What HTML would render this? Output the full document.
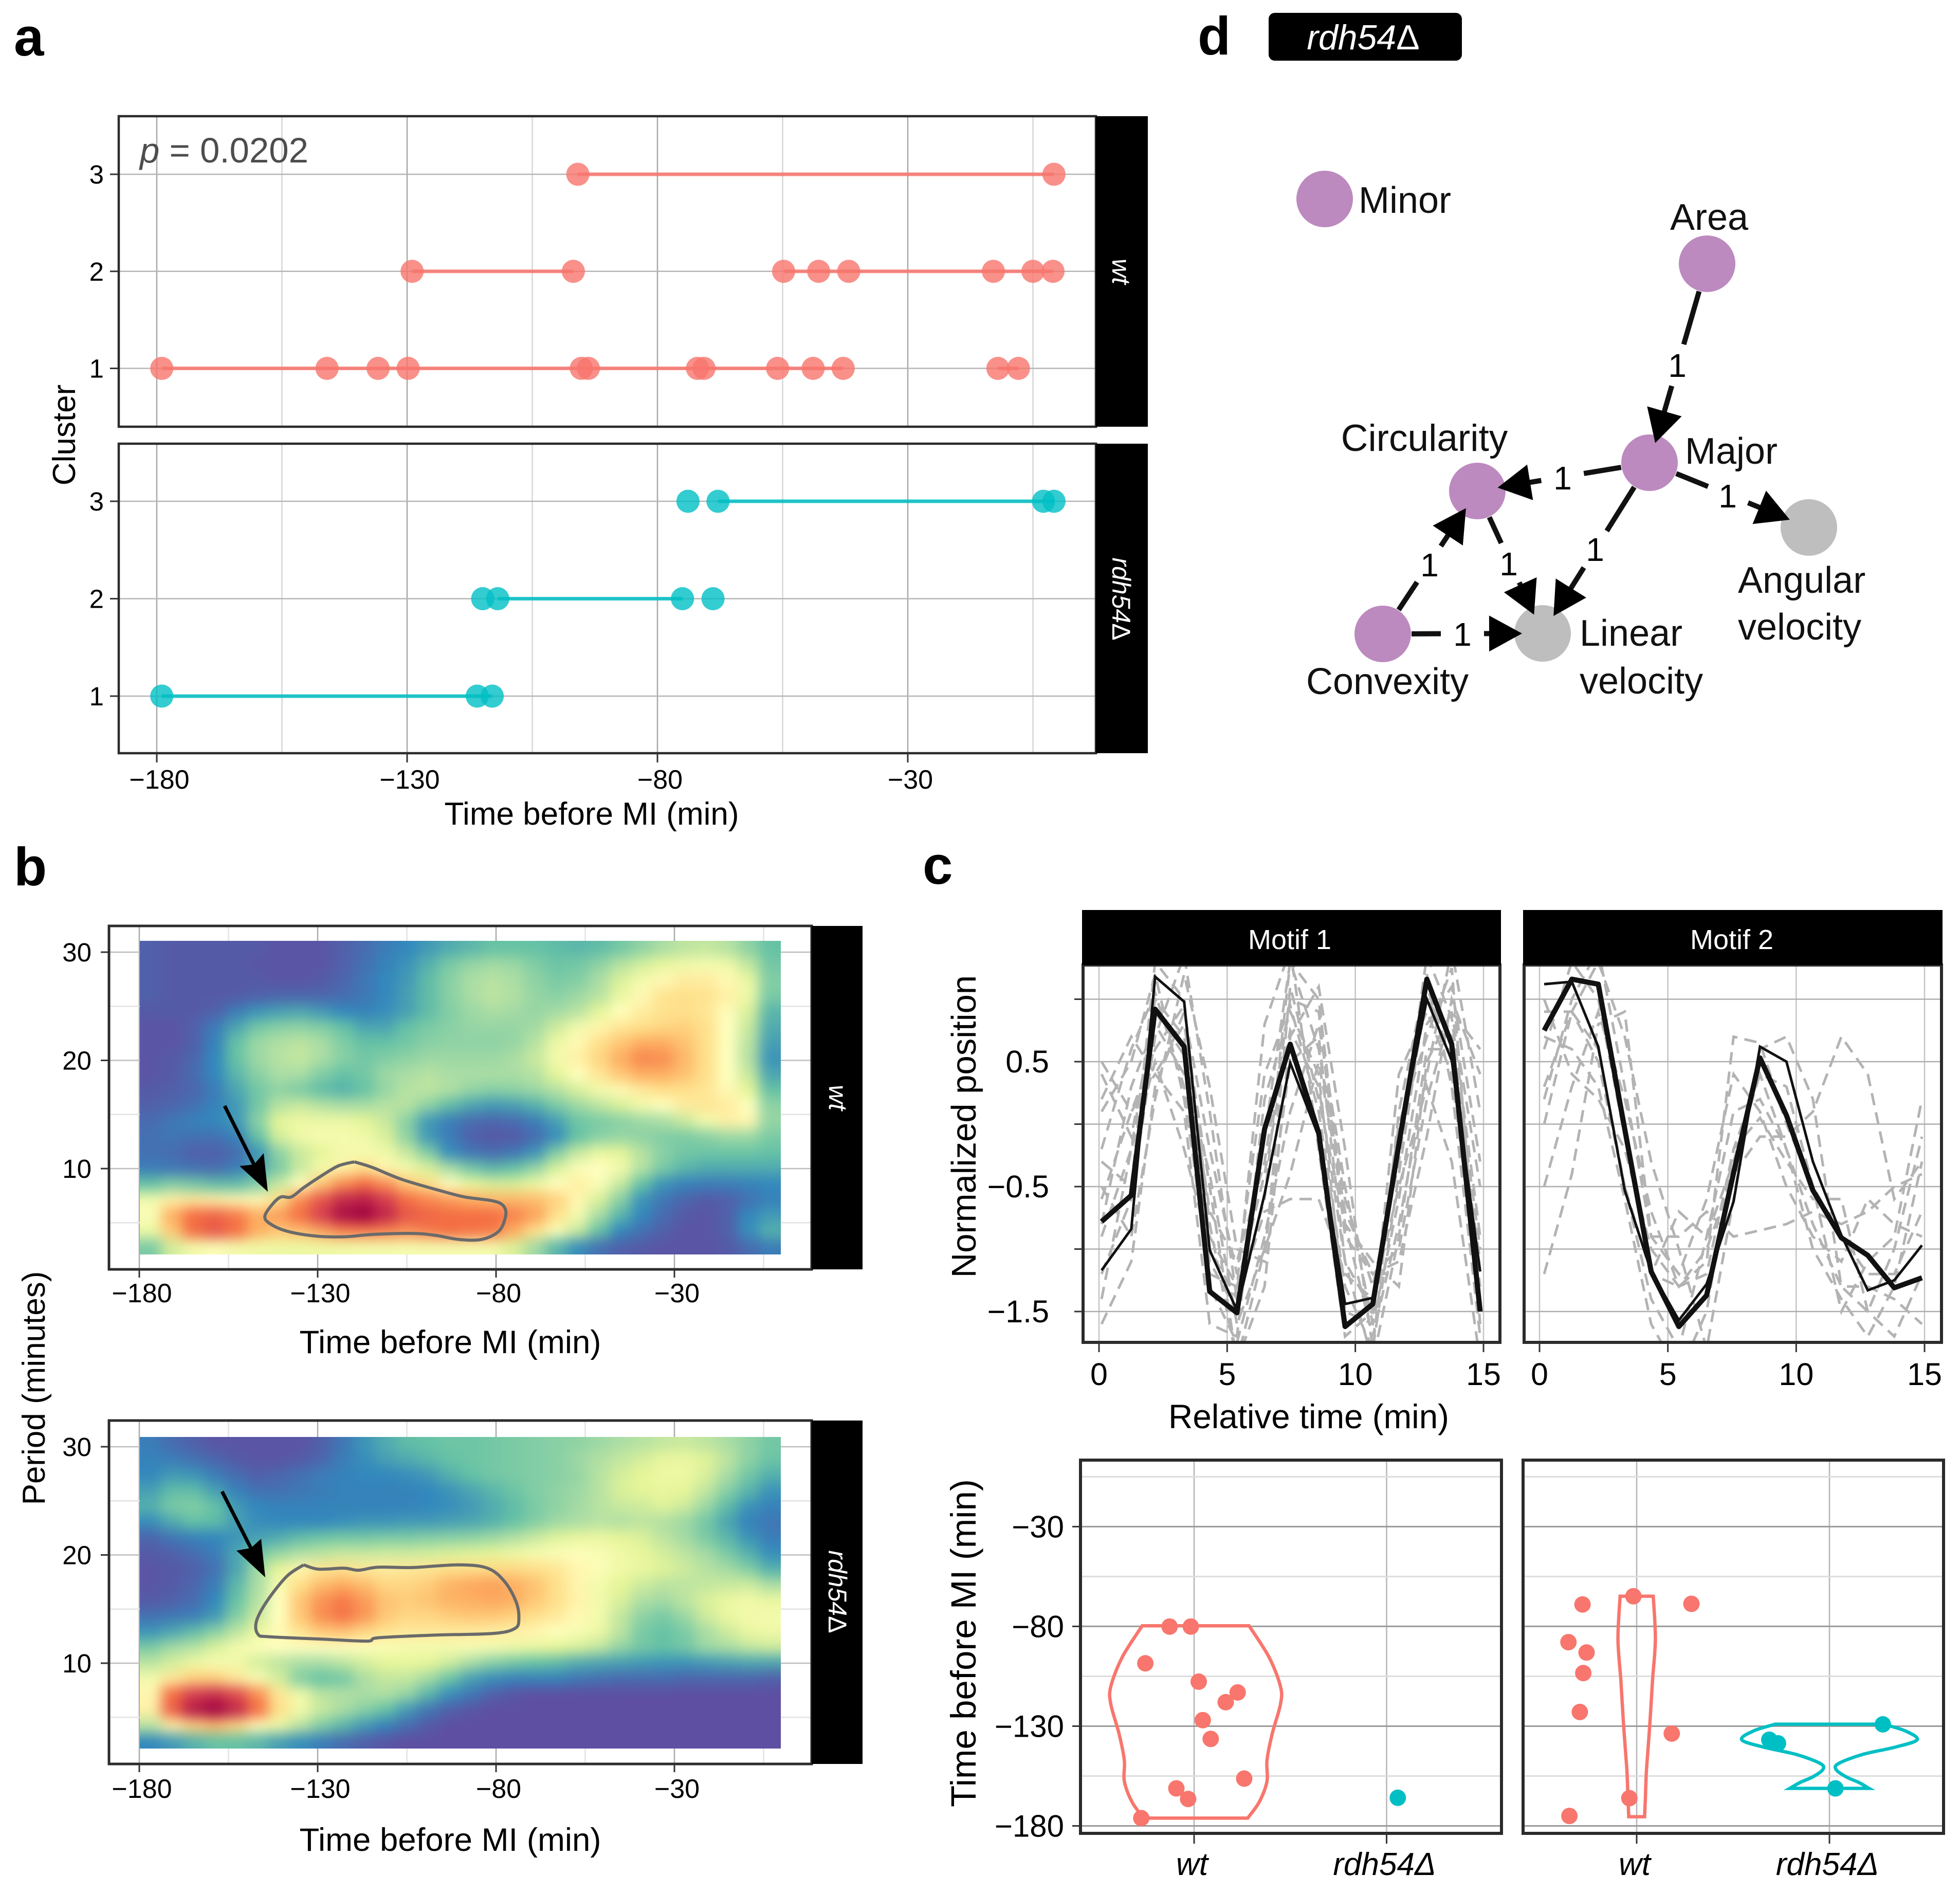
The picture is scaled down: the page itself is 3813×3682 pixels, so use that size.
<!DOCTYPE html>
<html lang="en">
<head>
<meta charset="utf-8">
<title>Cluster, wavelet, motif and network figure</title>
<style>
html,body{margin:0;padding:0;background:#fff;}
svg{display:block;}
text{font-family:"Liberation Sans","DejaVu Sans",sans-serif;fill:#000;}
.letter{font-size:105px;font-weight:700;}
.title{font-size:62px;}
.titleb{font-size:63.5px;}
.titlec{font-size:67px;}
.strip{font-size:50px;font-style:italic;fill:#fff;}
.node{font-size:72px;fill:#111;}
</style>
</head>
<body>
<svg id="fig" xmlns="http://www.w3.org/2000/svg" width="3813" height="3682" viewBox="0 0 3813 3682">
<defs>
<filter id="heatBlur" x="-5%" y="-5%" width="110%" height="110%" color-interpolation-filters="sRGB"><feGaussianBlur stdDeviation="13"/></filter>
<clipPath id="clipHeatWt"><rect x="272" y="1830" width="1247" height="610"/></clipPath>
<clipPath id="clipHeatRdh"><rect x="272" y="2795" width="1247" height="606"/></clipPath>
<clipPath id="clipM1"><rect x="2107" y="1877" width="811" height="734"/></clipPath>
<clipPath id="clipM2"><rect x="2965" y="1877" width="812" height="734"/></clipPath>
</defs>
<rect x="0" y="0" width="3813" height="3682" fill="#fff"/>

<g id="layerA"></g>
<g id="layerB"></g>
<g id="layerC"></g>
<g id="layerD"></g>

<g>
<text class="letter" x="27" y="108">a</text>
<text class="letter" x="27" y="1722">b</text>
<text class="letter" x="1795" y="1719">c</text>
<text class="letter" x="2330" y="106">d</text>

<text x="272" y="316" style="font-size:69px;fill:#4d4d4d"><tspan font-style="italic" style="fill:#4d4d4d">p</tspan> = 0.0202</text>
<text class="title" x="1151" y="1604" text-anchor="middle">Time before MI (min)</text>
<text class="title" transform="translate(146,846) rotate(-90)" text-anchor="middle">Cluster</text>
<rect x="2132" y="226" width="101" height="604" fill="#000"/>
<rect x="2132" y="863" width="101" height="602" fill="#000"/>
<text class="strip" transform="translate(2164,528) rotate(90)" text-anchor="middle">wt</text>
<text class="strip" transform="translate(2164,1165) rotate(90)" text-anchor="middle">rdh54<tspan font-style="normal" style="fill:#fff">Δ</tspan></text>

<text class="title" transform="translate(87,2700) rotate(-90)" text-anchor="middle">Period (minutes)</text>
<text class="titleb" x="876" y="2632" text-anchor="middle">Time before MI (min)</text>
<text class="titleb" x="876" y="3600" text-anchor="middle">Time before MI (min)</text>
<rect x="1579" y="1801" width="99" height="668" fill="#000"/>
<rect x="1579" y="2763" width="99" height="668" fill="#000"/>
<text class="strip" transform="translate(1613,2135) rotate(90)" text-anchor="middle">wt</text>
<text class="strip" transform="translate(1612,3096) rotate(90)" text-anchor="middle">rdh54<tspan font-style="normal" style="fill:#fff">Δ</tspan></text>
<g>
<line x1="437" y1="2151" x2="494" y2="2265" stroke="#000" stroke-width="7"/>
<polygon points="521,2318 466,2268 494,2265 513,2243" fill="#000"/>
</g>
<g>
<line x1="432" y1="2901" x2="488" y2="3011" stroke="#000" stroke-width="7"/>
<polygon points="516,3068 460,3016 488,3011 508,2993" fill="#000"/>
</g>

<rect x="2105" y="1770" width="815" height="107" fill="#000"/>
<rect x="2963" y="1770" width="816" height="107" fill="#000"/>
<text x="2509" y="1846" text-anchor="middle" style="font-size:54px;fill:#fff">Motif 1</text>
<text x="3369" y="1846" text-anchor="middle" style="font-size:54px;fill:#fff">Motif 2</text>
<text class="titlec" transform="translate(1898,2191) rotate(-90)" text-anchor="middle">Normalized position</text>
<text class="titlec" x="2546" y="2778" text-anchor="middle" style="font-size:65.5px">Relative time (min)</text>
<text class="titlec" transform="translate(1898,3196) rotate(-90)" text-anchor="middle" style="font-size:69px">Time before MI (min)</text>

<rect x="2468" y="25" width="376" height="93" rx="12" fill="#000"/>
<text x="2652" y="96" text-anchor="middle" style="font-size:68px;font-style:italic;fill:#fff">rdh54<tspan font-style="normal" style="fill:#fff">Δ</tspan></text>
</g>

<g id="nodeLabels">
<text class="node" x="2643" y="414">Minor</text>
<text class="node" x="3325" y="447" text-anchor="middle">Area</text>
<text class="node" x="2771" y="877" text-anchor="middle" style="font-size:73px">Circularity</text>
<text class="node" x="3278" y="902">Major</text>
<text class="node" x="3381" y="1153">Angular</text>
<text class="node" x="3381" y="1244">velocity</text>
<text class="node" x="3073" y="1256">Linear</text>
<text class="node" x="3073" y="1349">velocity</text>
<text class="node" x="2541" y="1350">Convexity</text>
</g>
</svg>

<script>
/* ---------- Panel a data (minutes before MI) ---------- */
const clusterTicks = [1, 2, 3];
const timeTicksA = [-180, -130, -80, -30];
const timeMinorA = [-155, -105, -55, -5];
const wtCluster1 = [-179, -146, -135.8, -129.8, -95.2, -93.8, -72, -70.7, -56, -48.9, -42.9, -12, -7.9];
const wtCluster2 = [-129, -96.8, -54.8, -47.8, -41.8, -12.9, -5, -1];
const wtCluster3 = [-95.9, -0.8];
const rdhCluster1 = [-179, -116, -113];
const rdhCluster2 = [-114.9, -111.9, -75, -68.9];
const rdhCluster3 = [-73.9, -67.9, -2.9, -0.8];
const wtRuns1 = [[-179, -42.9], [-12, -7.9]];
const wtRuns2 = [[-129, -96.8], [-54.8, -1]];
const wtRuns3 = [[-95.9, -0.8]];
const rdhRuns1 = [[-179, -113]];
const rdhRuns2 = [[-111.9, -75]];
const rdhRuns3 = [[-67.9, -0.8]];

/* ---------- Panel b data: power on a 0-10 colour scale ---------- */
const heatTimeTicks = [-180, -130, -80, -30];
const heatTimeMinor = [-155, -105, -55, -5];
const heatPeriodTicks = [10, 20, 30];
const heatPeriodMinor = [5, 15, 25];
const wtPower = [
[.3,.2,.2,.2,.2,.2,.1,.1,.1,.3,.5,.8,1,1.3,1.6,1.8,2,2,2,1.9,1.8,1.9,2.2,2.6,3,3.3,3.4,3.2,2.6,2],
[.3,.2,.2,.2,.2,.1,.1,.1,.1,.3,.6,.9,1.2,1.7,2.3,2.7,2.9,2.8,2.4,2.1,2.2,2.6,3.2,3.7,4.1,4.4,4.6,4.4,3.4,2.2],
[.3,.2,.2,.2,.2,.2,.1,.1,.2,.4,.7,1,1.3,1.9,2.5,3,3.2,3,2.6,2.3,2.4,3,3.8,4.5,5.2,5.6,5.6,5.2,4.2,2.4],
[.3,.2,.2,.2,.2,.3,.4,.4,.4,.5,.7,1,1.4,1.9,2.5,3,3.3,3.1,2.7,2.5,2.8,3.2,4.2,5.2,5.9,6,5.9,5.5,4.4,2.3],
[.2,.2,.2,.3,.8,1.2,1.4,1.5,1.3,1,.9,1.1,1.4,1.9,2.4,2.8,3,2.9,2.7,2.9,3.2,4,5,5.6,5.9,6,5.8,5.1,3.8,1.8],
[.1,.1,.3,.8,1.5,2.2,2.5,2.6,2.4,2,1.5,1.5,2,2.3,2.5,2.7,2.7,2.7,2.9,3.6,4.5,5.3,5.8,6,6.2,6.3,6,5,3.5,1.6],
[.1,.1,.3,.9,2,2.8,3.1,3.3,3,2.4,2,2,2.2,2.5,2.6,2.6,2.6,2.7,3.2,4.3,5.2,6,6.5,7,7,6.6,6,5,3.3,1.4],
[.1,.2,.4,1,2,2.8,3.2,3.4,3,2.5,2.2,2.4,2.6,2.8,2.8,2.8,2.8,3,3.5,4.5,5.5,6.2,7,7.6,7.5,6.8,6,5,3.2,1.2],
[.1,.2,.5,1,1.8,2.5,3,3,2.4,2,2.2,2.8,3,3.2,3,3,3,3,3.2,4,5,5.8,6.5,7,7,6.6,6,5,3.5,1.5],
[.2,.3,.4,.8,1.5,2.2,2.6,2.3,1.9,1.7,2,2.7,3.2,3.3,3.1,2.7,2.5,2.6,2.8,3.2,3.8,4.5,5.2,5.7,6,6,5.8,5.2,4,2],
[.3,.4,.6,.9,1.3,2.2,3.2,3.5,3.2,3,3,3.2,3.2,2.6,1.9,1.5,1.3,1.4,1.7,2.3,2.8,3.3,3.8,4.5,5,5.6,5.8,5.6,5,2.6],
[.5,.7,.9,1,1.3,2.5,4,4.3,4.3,4.3,4,3.5,2.5,1.3,.8,.5,.4,.5,.8,1.4,2.1,2.3,2.5,2.8,3,3.5,4.5,5.5,5.3,2.7],
[.6,.7,.6,.6,.9,2,3.7,4.4,4.6,4.6,4.4,3.8,2.6,1.3,.8,.3,.15,.2,.5,1.1,2,2.5,2.7,2.6,2.4,2.3,2.5,2.8,2.8,2.3],
[.6,.5,.3,.3,.5,1.2,2.6,3.5,4,4.5,4.6,4.4,3.5,2.4,1.1,.7,.5,.7,1.2,2.4,3.5,4.2,4,3.2,2.5,2.2,2.1,2.1,2.1,2],
[.8,.7,.6,.5,.8,1.5,2.3,3.5,4.5,5.5,6,5.3,4.5,3.8,3,2.2,1.8,2,2.7,3.8,4.8,5,4.5,3.2,2.3,1.8,1.6,1.6,1.6,1.6],
[2,2.4,2.2,1.9,1.9,2.4,3.5,5,6.5,7.5,8,7.5,6.5,6,5,4.2,3.8,3.8,4.3,5,5.5,4.8,3.5,2,1.2,.9,.8,.8,.9,1],
[4.5,5.5,5.7,5.5,5.3,5.2,6,7.5,8.5,9.3,9.5,9,8,7.6,7.3,7,6.8,6.8,6.7,6.3,5.3,3.8,2.5,1.2,.7,.4,.2,.3,.6,.9],
[4.8,7,8,8.2,7.8,7,7.3,8,9,9.8,10,9.4,8.5,8.2,8,8,8,7.7,7.2,6,4.6,3,1.8,1,.5,.2,.1,.3,1,1.3],
[4.3,6.5,8,8.5,8,7,6.5,6.7,7.2,7.7,7.8,7.7,7.5,7.8,8,7.9,7.8,7,6,4.8,3.5,2,1,.6,.3,.1,.1,.3,1.1,1.7],
[2.3,3.7,4.5,4.8,4.5,4.4,4.3,4.3,4.3,4.4,4.5,4.5,4.6,4.6,4.6,4.6,4.5,3.8,2.9,1.8,1.1,.6,.3,.2,.1,.1,.1,.2,.5,.8]
];
const rdhPower = [
[.8,.5,.3,.1,.1,.1,.1,.1,.3,.7,1.2,1.6,1.9,2,2.1,2.1,2.2,2.3,2.4,2.5,2.6,2.8,3,3.2,3.4,3.5,3.3,3,2.6,2.2],
[.9,.8,.6,.4,.2,.1,.1,.2,.4,.8,1.1,1.4,1.6,1.8,2,2.1,2.2,2.3,2.4,2.5,2.8,3.1,3.4,3.7,4.1,4.2,3.9,3.3,2.6,2.1],
[1,1.3,1.2,.8,.5,.3,.4,.6,.8,.9,1,1,1.1,1.3,1.7,2,2.2,2.3,2.4,2.5,2.7,3.2,3.7,4,4.3,4.3,3.8,3,2.2,1.7],
[1.4,1.9,1.9,1.4,.9,.6,.6,.7,.8,.9,.9,.9,.9,1,1.2,1.5,1.8,2.1,2.4,2.6,2.8,3.2,3.8,4,4.1,4,3.4,2.5,1.8,1.2],
[1.7,2.3,2.4,2,1.3,1,.9,.9,.9,.9,.9,.9,.9,1,1.1,1.3,1.6,1.9,2.3,2.6,2.9,3.2,3.5,3.6,3.9,3.6,2.8,1.9,1.2,.9],
[1.1,1.6,2,1.9,1.4,1.1,1,1,1,1.1,1.2,1.2,1.3,1.3,1.4,1.5,1.7,2,2.4,2.8,3,3.2,3.1,3.3,3.1,2.8,2.2,1.5,.9,.7],
[.4,.7,.9,1,1.2,1.4,1.6,1.9,2.1,2.2,2.2,2.3,2.3,2.4,2.5,2.6,2.8,3.1,3.5,3.9,4.1,4.2,4,3.8,3.3,2.9,2.3,1.8,1.2,.8],
[.2,.3,.5,.8,1.5,2.1,2.7,3.1,3.3,3.5,3.5,3.6,3.6,3.7,3.8,3.9,4,4.3,4.6,4.8,4.9,4.7,4.4,4.1,3.7,3.3,2.9,2.3,1.7,1.1],
[.1,.2,.3,.6,1.5,2.9,4,5.3,5.8,5.9,5.7,5.6,5.7,5.8,6,6,6.1,6.1,6,5.8,5.3,4.8,4.4,4.2,3.9,3.6,3.2,2.9,2.4,1.7],
[.1,.2,.4,.8,1.8,3,4.6,6,6.7,7,6.7,6.2,6.2,6.4,6.9,7.1,7.2,7,6.6,6,5.3,4.5,4,3.6,3.3,3.3,3.4,3.5,3.6,3],
[.2,.3,.5,1,2,3.2,5,6.5,7.4,7.8,7.3,6.6,6.4,6.6,6.9,7,7.1,7,6.5,6,5.4,4.5,3.8,3.1,2.9,3.3,3.8,4.2,4.4,4.2],
[.6,.7,.8,1.3,2.4,3.5,5,6.5,7.5,7.9,7.4,6.5,6.2,6.2,6.4,6.5,6.5,6.3,6,5.7,5.2,4.5,3.4,2.6,2.3,2.8,3.6,4.2,4.5,4.5],
[1.2,1.5,1.9,2.5,3.3,4.2,5.2,5.9,6.5,6.6,6.2,5.9,5.7,5.7,5.7,5.7,5.6,5.5,5.3,5,4.7,4.3,3.3,2.3,2,2.3,3,3.6,4.2,4.4],
[2.3,2.9,3.2,3.8,4.5,4.8,5,5,5,5,4.9,4.8,4.6,4.6,4.6,4.7,4.6,4.4,4.2,4,3.8,3.4,2.7,2.2,2,2.2,2.8,3,3.4,3.6],
[3.3,3.7,4.3,4.6,4.4,3.7,3.3,3,3,3.3,3.7,4,4.1,4,3.6,3,2.5,2.2,2,1.9,1.6,1.5,1.4,1.3,1.2,1.2,1.3,1.4,1.5,1.5],
[4.5,5.7,6.3,6.3,5.7,4.7,3.7,2.4,2,2.2,3,3.4,3.4,2.9,2.1,1.4,1.1,.9,.9,.9,.7,.6,.5,.5,.5,.4,.4,.4,.4,.3],
[5.3,8,9,9.2,8.7,7.5,5.8,4.4,3.3,3.1,3,3.1,2.7,1.8,1.1,.7,.3,.1,0,0,0,0,0,0,0,0,0,0,0,0],
[5.5,8.3,9.6,10,9.4,8,6,4.5,3.5,3,2.5,2,1.3,.7,.3,.1,0,0,0,0,0,0,0,0,0,0,0,0,0,0],
[3.3,5.5,6.3,6.7,6.2,5.2,4.3,3.3,2.4,1.8,1.3,.9,.5,.2,0,0,0,0,0,0,0,0,0,0,0,0,0,0,0,0],
[1,1.3,1.7,2,2,1.8,1.4,1.1,.8,.5,.3,.1,0,0,0,0,0,0,0,0,0,0,0,0,0,0,0,0,0,0]
];
const wtContourTime = [-119.7,-124.2,-129,-133.9,-137.4,-140.3,-142.7,-144.8,-143.5,-138.7,-130.6,-122.6,-114.6,-103.3,-96.9,-90.5,-84,-79.2,-77.3,-77.9,-80.8,-88.8,-95.3,-106.5,-114.6];
const wtContourPeriod = [10.62,10.25,9.32,8.24,7.38,7.38,6.7,5.62,4.94,4.23,3.77,3.7,3.92,4.01,3.83,3.46,3.46,4.23,5.62,6.54,7.01,7.38,7.93,9.01,10.1];
const rdhContourTime = [-133.9,-129.8,-122.6,-118.6,-113,-103.3,-90.5,-82.4,-77.6,-74.4,-73.6,-74.7,-80.8,-96.9,-113,-116.2,-129,-143.5,-146.7,-147.2,-144.3,-138.7];
const rdhContourPeriod = [19.09,18.69,18.78,18.59,18.87,18.84,19.09,18.78,17.54,15.69,14.14,13.21,12.75,12.6,12.35,12.04,12.23,12.44,12.66,13.83,15.69,18.01];

/* ---------- Panel c motif data ---------- */
const motifXTicks = [0, 5, 10, 15];
const motifYLabels = [0.5, -0.5, -1.5];
const motifYMinor = [1, 0, -1];
const m1Time = [.1,1.26,2.19,3.32,4.32,5.38,6.46,7.46,8.57,9.6,10.68,11.7,12.79,13.76,14.87];
const m1Thick = [-.78,-.57,.92,.62,-1.34,-1.51,-.04,.64,-.07,-1.62,-1.44,-.16,1.16,.64,-1.5];
const m1Thin = [-1.17,-.84,1.18,.98,-1.01,-1.49,-.56,.49,-.1,-1.44,-1.39,-.13,1,.51,-1.18];
const m1Gray = [
[.4,-.1,.9,.55,-.9,-1.3,-.4,.75,.3,-1.1,-1.5,-.2,1,.7,-1],
[-.2,.6,1.05,.3,-1.3,-1.75,-.9,.1,.8,-.5,-1.6,-.6,.8,1.1,-.3],
[-1.2,-.6,.7,1.35,.1,-1.4,-.6,1.3,1,-.8,-1.7,-.8,.4,1.4,.1],
[-1.6,-1.1,.3,.9,-.2,-1.2,.4,.95,.1,-1.3,-1.8,.1,1.2,.3,-1.7],
[.1,.5,1.2,.2,-1.1,-1.5,-.1,1.3,.6,-.6,-1.3,-.3,1.35,.85,-.9],
[-.8,.3,.8,.4,-.4,-1.6,-1,-.4,.5,-.7,-1.2,-1,.2,.9,-.5],
[-.6,.1,.6,.95,-.8,-1.9,-1,.5,.7,-1.1,-1.9,-.9,.6,.6,-1.3],
[-1.4,-.2,.5,-.2,-1,-1.4,-.7,-.6,-.6,-1.2,-1.4,-.5,.3,-.3,-1.9],
[.5,.1,.4,.1,-1.6,-1.7,.2,.9,.4,-1.5,-1.6,.4,.9,.4,-1.4],
[-.3,-.5,1.3,1,-1.2,-1.3,.8,1.4,-.2,-1.7,-1.5,0,.7,1.25,-1.6],
[-.9,-.2,1,.7,-.7,-1.1,-.3,1,.9,-.9,-1.2,-1.1,-.1,1,.4],
[.2,.7,.4,.8,-.5,-1.9,-1.3,.7,1.1,-.2,-1.8,-.4,1.1,.5,-1.1],
[-.5,-.9,.2,1.2,.3,-1,-1.1,1.1,.2,-.8,-1.1,-1.3,.5,.9,.6]
];
const m2Time = [.18,1.26,2.29,3.32,4.35,5.43,6.51,7.56,8.59,9.62,10.65,11.76,12.79,13.82,14.9];
const m2Thick = [.75,1.16,1.12,-.04,-1.18,-1.62,-1.37,-.39,.53,.07,-.53,-.91,-1.05,-1.31,-1.23];
const m2Thin = [1.12,1.14,.62,-.53,-1.18,-1.57,-1.28,-.62,.62,.5,-.3,-.89,-1.33,-1.25,-.97];
const m2Gray = [
[.6,1.3,1,-.1,-1.2,-1.3,-1.1,.7,.65,0,-.5,-.9,-1.2,-1.2,-.7],
[0,.9,.6,-.5,-1.4,-1.8,-.9,.1,.2,-.2,-.8,-1.3,-1.3,-1.4,-1.6],
[-1.2,-.4,.8,.9,-.9,-.9,-.7,-.9,-.85,-.8,-.7,-.8,-.7,-.5,-.4],
[1,.4,.2,-.2,-1,-1.3,-1,-.4,-.1,-.1,.1,.7,.4,-.6,-.3],
[.3,.9,1.3,.7,-.3,-1,-1.8,-.6,.6,.7,.2,-1.3,-1.5,-1,-.1],
[.7,.6,.3,-.6,-1.6,-2,-1.5,-.2,.4,-.2,-1,-1.4,-1.7,-1.3,-.3],
[.2,1,1.4,.3,-.9,-1.2,-.6,.4,.1,-.5,-.9,-1.1,-.6,-.8,-.9],
[.9,.9,.5,-.5,-1.2,-.7,-.9,-.3,.4,.3,-.5,-1.5,-1.1,-.9,.2],
[-.5,.3,.9,.2,-.7,-1.3,-1.2,-.2,.05,-.3,-.6,-.6,-1.5,-1.7,-1.2]
];

/* ---------- Panel c violin data ---------- */
const violinYTicks = [-30, -80, -130, -180];
const violinYMinor = [-5, -55, -105, -155];
const violinCategories = ['wt', 'rdh54Δ'];
const v1WtTime = [-79.7,-95.3,-110.1,-119,-133.9,-147.2,-157.6,-168,-176.1];
const v1WtWidth = [.277,.38,.44,.44,.397,.37,.37,.33,.27];
const v2WtTime = [-64.9,-86.4,-107.2,-129.4,-151.7,-166.5,-175.4];
const v2WtWidth = [.086,.097,.082,.068,.051,.045,.041];
const v2RdhTime = [-129,-132.4,-136.8,-140.5,-144.2,-148.7,-151.7,-155.4,-158.3,-161.2];
const v2RdhWidth = [.281,.394,.455,.342,.171,.048,.034,.086,.154,.205];
const p1WtJitter = [-.127,-.017,-.253,.024,.226,.164,.045,.086,.26,-.092,-.031,-.274];
const p1WtTime = [-80.1,-80.1,-98.5,-107.7,-113.1,-118,-127,-136.4,-156.3,-161.2,-166.5,-176.1];
const p1RdhJitter = [.058];
const p1RdhTime = [-165.9];
const p2WtJitter = [-.017,-.281,.284,-.354,-.26,-.277,-.295,.182,-.038,-.349];
const p2WtTime = [-64.9,-69,-68.7,-87.9,-93.1,-103.4,-122.9,-133.7,-166.1,-175];
const p2RdhJitter = [.277,-.312,-.267,.031];
const p2RdhTime = [-129.1,-136.8,-138.6,-161.2];

/* ---------- Panel d network ---------- */
const nodeNames = ['Minor','Area','Major','Circularity','Angular','Linear','Convexity'];
const edgeFrom = ['Area','Major','Major','Major','Circularity','Convexity','Convexity'];
const edgeTo = ['Major','Circularity','Angular','Linear','Linear','Circularity','Linear'];
const edgeWeights = [1,1,1,1,1,1,1];

/* ---------- helpers ---------- */
const NS = 'http://www.w3.org/2000/svg';
const RED = '#F8766D', TEAL = '#00BFC4';
function make(parent, tag, attrs, name) {
  const el = document.createElementNS(NS, tag);
  for (const k in attrs) el.setAttribute(k, attrs[k]);
  
  
  parent.appendChild(el);
  return el;
}
function lin(d0, d1, r0, r1) { return v => r0 + (v - d0) * (r1 - r0) / (d1 - d0); }
function fmt(v) { return String(v).replace('-', '\u2212'); }
function label(parent, x, y, s, size, anchor, name, italic) {
  const t = make(parent, 'text', {x: x, y: y, 'text-anchor': anchor}, name);
  t.style.fontSize = size + 'px';
  if (italic) t.style.fontStyle = 'italic';
  t.textContent = s;
  return t;
}
function vline(p, x, y0, y1, col, w, name) { make(p, 'line', {x1:x, x2:x, y1:y0, y2:y1, stroke:col, 'stroke-width':w}, name); }
function hline(p, y, x0, x1, col, w, name) { make(p, 'line', {x1:x0, x2:x1, y1:y, y2:y, stroke:col, 'stroke-width':w}, name); }
function frame(p, x0, y0, x1, y1, w, name) {
  make(p, 'rect', {x:x0, y:y0, width:x1-x0, height:y1-y0, fill:'none', stroke:'#2b2b2b', 'stroke-width':w}, name);
}
function pathOf(xs, ys) { return xs.map((x, i) => (i ? 'L' : 'M') + x.toFixed(1) + ' ' + ys[i].toFixed(1)).join(''); }
function smooth(pts) {
  let d = '';
  for (let i = 0; i < pts.length - 1; i++) {
    const p0 = pts[Math.max(i - 1, 0)], p1 = pts[i], p2 = pts[i + 1], p3 = pts[Math.min(i + 2, pts.length - 1)];
    d += 'C' + (p1[0] + (p2[0] - p0[0]) / 6).toFixed(1) + ' ' + (p1[1] + (p2[1] - p0[1]) / 6).toFixed(1) + ' ' +
         (p2[0] - (p3[0] - p1[0]) / 6).toFixed(1) + ' ' + (p2[1] - (p3[1] - p1[1]) / 6).toFixed(1) + ' ' +
         p2[0].toFixed(1) + ' ' + p2[1].toFixed(1);
  }
  return d;
}

/* ---------- panel a ---------- */
const layerA = document.getElementById('layerA');
const xA = lin(-180, -30, 305, 1766);
function clusterPanel(top, bottom, y1, y3, series, runs, col, tag) {
  const yC = lin(1, 3, y1, y3);
  timeMinorA.forEach(t => vline(layerA, xA(t), top, bottom, '#d6d6d6', 2.5, 'minor-gridline'));
  timeTicksA.forEach(t => vline(layerA, xA(t), top, bottom, '#a8a8a8', 2.5, 'major-gridline'));
  clusterTicks.forEach(c => {
    hline(layerA, yC(c), 231, 2132, '#b5b5b5', 2.5, 'cluster-gridline');
    hline(layerA, yC(c), 214, 231, '#333', 3, 'y-tick');
    label(layerA, 202, yC(c) + 18, c, 51, 'end', 'y-tick-label');
  });
  clusterTicks.forEach((c, i) => {
    runs[i].forEach(r => make(layerA, 'line', {x1:xA(r[0]), x2:xA(r[1]), y1:yC(c), y2:yC(c), stroke:col, 'stroke-width':7, 'stroke-opacity':.85}, tag + '-cluster-' + c + '-run'));
    series[i].forEach(t => make(layerA, 'circle', {cx:xA(t), cy:yC(c), r:22.5, fill:col, 'fill-opacity':.8}, tag + '-cluster-' + c + '-point'));
  });
  frame(layerA, 231, top, 2132, bottom, 4.5, tag + '-panel-frame');
}
clusterPanel(226, 830, 716.5, 339, [wtCluster1, wtCluster2, wtCluster3], [wtRuns1, wtRuns2, wtRuns3], RED, 'wt');
clusterPanel(863, 1465, 1354, 975, [rdhCluster1, rdhCluster2, rdhCluster3], [rdhRuns1, rdhRuns2, rdhRuns3], TEAL, 'rdh54');
timeTicksA.forEach(t => {
  vline(layerA, xA(t), 1465, 1483, '#333', 3, 'x-tick');
  label(layerA, xA(t) + 5, 1534, fmt(t), 52, 'middle', 'x-tick-label');
});

/* ---------- panel b ---------- */
const layerB = document.getElementById('layerB');
const palette = ['#5E4FA2','#3288BD','#66C2A5','#ABDDA4','#E6F598','#FFFFBF','#FEE08B','#FDAE61','#F46D43','#D53E4F','#9E0142'];
function hex(c) { return [1, 3, 5].map(i => parseInt(c.substr(i, 2), 16)); }
function spectral(v) {
  const u = Math.max(0, Math.min(10, v)), i = Math.min(9, Math.floor(u)), f = u - i;
  const a = hex(palette[i]), b = hex(palette[i + 1]);
  return 'rgb(' + a.map((c, k) => Math.round(c + (b[k] - c) * f)).join(',') + ')';
}
const xH = lin(-180, -30, 271, 1312);
function heatPanel(top, bottom, y30, y10, values, clipId, cTime, cPeriod, tick, tag) {
  const yH = lin(30, 10, y30, y10);
  const tMin = -179.8, tMax = -0.3, pMax = 31.05, pMin = 2.07;
  heatTimeMinor.forEach(t => vline(layerB, xH(t), top, bottom, '#e2e2e2', 2.5, 'heat-minor-gridline'));
  heatTimeTicks.forEach(t => vline(layerB, xH(t), top, bottom, '#aaaaaa', 2.5, 'heat-major-gridline'));
  heatPeriodMinor.forEach(p => hline(layerB, yH(p), 212, 1579, '#e2e2e2', 2.5, 'heat-minor-gridline'));
  heatPeriodTicks.forEach(p => {
    hline(layerB, yH(p), 212, 1579, '#bdbdbd', 2.5, 'heat-major-gridline');
    hline(layerB, yH(p), 196, 212, '#333', 3, 'heat-y-tick');
    label(layerB, 178, yH(p) + 18, p, 51, 'end', 'heat-y-tick-label');
  });
  const clip = make(layerB, 'g', {'clip-path':'url(#' + clipId + ')'}, tag + '-heatmap');
  const blur = make(clip, 'g', {filter:'url(#heatBlur)'}, tag + '-heatmap-cells');
  const rows = values.length, cols = values[0].length;
  const cw = (tMax - tMin) / cols, ch = (pMax - pMin) / rows;
  values.forEach((row, j) => row.forEach((v, i) => {
    let x0 = xH(tMin + i * cw), x1 = xH(tMin + (i + 1) * cw);
    let y0 = yH(pMax - j * ch), y1 = yH(pMax - (j + 1) * ch);
    if (i === 0) x0 -= 70;
    if (i === cols - 1) x1 += 70;
    if (j === 0) y0 -= 70;
    if (j === rows - 1) y1 += 70;
    make(blur, 'rect', {x:x0, y:y0, width:x1 - x0 + 1, height:y1 - y0 + 1, fill:spectral(v), 'shape-rendering':'crispEdges'}, 'heatmap-cell');
  }));
  const pts = cTime.map((t, i) => [xH(t), yH(cPeriod[i])]);
  pts.push(pts[0]);
  make(layerB, 'path', {d:'M' + pts[0][0].toFixed(1) + ' ' + pts[0][1].toFixed(1) + smooth(pts), fill:'none', stroke:'#6a6a6a', 'stroke-width':6}, tag + '-significance-contour');
  frame(layerB, 212, top, 1579, bottom, 5, tag + '-heat-frame');
  heatTimeTicks.forEach(t => {
    vline(layerB, xH(t), bottom, bottom + 16, '#333', 3, 'heat-x-tick');
    label(layerB, xH(t) + 5, tick, fmt(t), 52, 'middle', 'heat-x-tick-label');
  });
}
heatPanel(1801, 2469, 1852, 2273, wtPower, 'clipHeatWt', wtContourTime, wtContourPeriod, 2533, 'wt');
heatPanel(2763, 3431, 2814, 3235, rdhPower, 'clipHeatRdh', rdhContourTime, rdhContourPeriod, 3497, 'rdh54');

/* ---------- panel c, motifs ---------- */
const layerC = document.getElementById('layerC');
const yM = lin(0.5, -1.5, 2065, 2551);
function motifPanel(x0, x1, t0, t15, time, thick, thin, gray, clipId, tag) {
  const xM = lin(0, 15, t0, t15);
  motifXTicks.forEach(t => vline(layerC, xM(t), 1877, 2611, '#c4c4c4', 2.5, 'motif-vertical-gridline'));
  motifYLabels.concat(motifYMinor).forEach(v => hline(layerC, yM(v), x0, x1, '#adadad', 2.5, 'motif-horizontal-gridline'));
  const g = make(layerC, 'g', {'clip-path':'url(#' + clipId + ')'}, tag + '-series');
  const xs = time.map(xM);
  gray.forEach(s => make(g, 'path', {d:pathOf(xs, s.map(yM)), fill:'none', stroke:'#b3b3b3', 'stroke-width':5, 'stroke-dasharray':'24 14'}, tag + '-gray-trace'));
  make(g, 'path', {d:pathOf(xs, thin.map(yM)), fill:'none', stroke:'#111', 'stroke-width':5}, tag + '-thin-trace');
  make(g, 'path', {d:pathOf(xs, thick.map(yM)), fill:'none', stroke:'#111', 'stroke-width':10, 'stroke-linejoin':'round'}, tag + '-thick-trace');
  frame(layerC, x0, 1877, x1, 2611, 6, tag + '-frame');
  motifXTicks.forEach(t => {
    vline(layerC, xM(t), 2611, 2630, '#333', 3, 'motif-x-tick');
    label(layerC, xM(t), 2694, t, 61, 'middle', 'motif-x-tick-label');
  });
}
motifPanel(2107, 2918, 2138, 2886, m1Time, m1Thick, m1Thin, m1Gray, 'clipM1', 'motif-1');
motifPanel(2965, 3777, 2995, 3744, m2Time, m2Thick, m2Thin, m2Gray, 'clipM2', 'motif-2');
motifYMinor.concat(motifYLabels).forEach(v => hline(layerC, yM(v), 2090, 2107, '#333', 3, 'motif-y-tick'));
motifYLabels.forEach(v => label(layerC, 2041, yM(v) + 21, fmt(v.toFixed(1)), 61, 'end', 'motif-y-tick-label'));

/* ---------- panel c, violins ---------- */
const yV = lin(-30, -180, 2969.4, 3551.5);
const CAT = 375;
function violin(p, center, times, widths, col, name) {
  const right = times.map((t, i) => [center + widths[i] * CAT, yV(t)]);
  const left = times.map((t, i) => [center - widths[i] * CAT, yV(t)]).reverse();
  const d = 'M' + right[0][0].toFixed(1) + ' ' + right[0][1].toFixed(1) + smooth(right) +
            'L' + left[0][0].toFixed(1) + ' ' + left[0][1].toFixed(1) + smooth(left) + 'Z';
  make(p, 'path', {d:d, fill:'none', stroke:col, 'stroke-width':6.5}, name);
}
function dots(p, center, jit, times, col, name) {
  times.forEach((t, i) => make(p, 'circle', {cx:center + jit[i] * CAT, cy:yV(t), r:16, fill:col}, name));
}
function violinPanel(x0, x1, cWt, cRdh, tag) {
  [cWt, cRdh].forEach(c => vline(layerC, c, 2840, 3566, '#b5b5b5', 2.5, 'violin-vertical-gridline'));
  violinYMinor.forEach(v => hline(layerC, yV(v), x0, x1, '#dddddd', 3, 'violin-minor-gridline'));
  violinYTicks.forEach(v => hline(layerC, yV(v), x0, x1, '#9a9a9a', 3, 'violin-major-gridline'));
}
violinPanel(2102, 2921, 2323, 2697.5, 'left');
violinPanel(2963, 3781, 3184, 3559, 'right');
violin(layerC, 2326, v1WtTime, v1WtWidth, RED, 'violin-motif-1-wt');
violin(layerC, 3184, v2WtTime, v2WtWidth, RED, 'violin-motif-2-wt');
violin(layerC, 3559, v2RdhTime, v2RdhWidth, TEAL, 'violin-motif-2-rdh54');
dots(layerC, 2323, p1WtJitter, p1WtTime, RED, 'point-motif-1-wt');
dots(layerC, 2697.5, p1RdhJitter, p1RdhTime, TEAL, 'point-motif-1-rdh54');
dots(layerC, 3184, p2WtJitter, p2WtTime, RED, 'point-motif-2-wt');
dots(layerC, 3559, p2RdhJitter, p2RdhTime, TEAL, 'point-motif-2-rdh54');
frame(layerC, 2102, 2840, 2921, 3566, 6, 'violin-left-frame');
frame(layerC, 2963, 2840, 3781, 3566, 6, 'violin-right-frame');
violinYTicks.forEach(v => {
  hline(layerC, yV(v), 2086, 2102, '#333', 3, 'violin-y-tick');
  label(layerC, 2070, yV(v) + 21, fmt(v), 60, 'end', 'violin-y-tick-label');
});
[[2323, 2697.5], [3184, 3559]].forEach(pair => pair.forEach((c, i) => {
  vline(layerC, c, 3566, 3586, '#333', 3, 'violin-x-tick');
  label(layerC, c - 4, 3647, violinCategories[i], 62, 'middle', 'violin-x-tick-label', true);
}));

/* ---------- panel d ---------- */
const layerD = document.getElementById('layerD');
const nodeX = [2577,3321,3209,2874,3519,3001,2690];
const nodeY = [387,513,900,955,1026,1232,1233];
const nodeFill = ['#BC8ABF','#BC8ABF','#BC8ABF','#BC8ABF','#BEBEBE','#BEBEBE','#BC8ABF'];
const edgeLabelX = [3263,3040,3361,3103,2935,2781,2845];
const edgeLabelY = [710,929,964,1068,1096,1098,1233];
nodeNames.forEach((n, i) => make(layerD, 'circle', {cx:nodeX[i], cy:nodeY[i], r:55, fill:nodeFill[i]}, 'node-' + n.toLowerCase()));
edgeFrom.forEach((from, i) => {
  const a = nodeNames.indexOf(from), b = nodeNames.indexOf(edgeTo[i]);
  const ax = nodeX[a], ay = nodeY[a], bx = nodeX[b], by = nodeY[b];
  const len = Math.hypot(bx - ax, by - ay), ux = (bx - ax) / len, uy = (by - ay) / len;
  const lx = edgeLabelX[i], ly = edgeLabelY[i];
  const along = (lx - ax) * ux + (ly - ay) * uy;
  const tip = len - 40, base = tip - 64;
  const seg = (s, e) => { if (e > s) make(layerD, 'line', {x1:ax + ux * s, y1:ay + uy * s, x2:ax + ux * e, y2:ay + uy * e, stroke:'#111', 'stroke-width':10}, 'edge-line'); };
  seg(56, along - 42);
  seg(along + 42, base + 4);
  const bcx = ax + ux * base, bcy = ay + uy * base;
  const pts = [[ax + ux * tip, ay + uy * tip], [bcx - uy * 35, bcy + ux * 35], [bcx + uy * 35, bcy - ux * 35]];
  make(layerD, 'polygon', {points:pts.map(p => p[0].toFixed(1) + ',' + p[1].toFixed(1)).join(' '), fill:'#000'}, 'edge-arrowhead');
  label(layerD, lx, ly + 23, edgeWeights[i], 64, 'middle', 'edge-weight');
});
</script>
</body>
</html>
